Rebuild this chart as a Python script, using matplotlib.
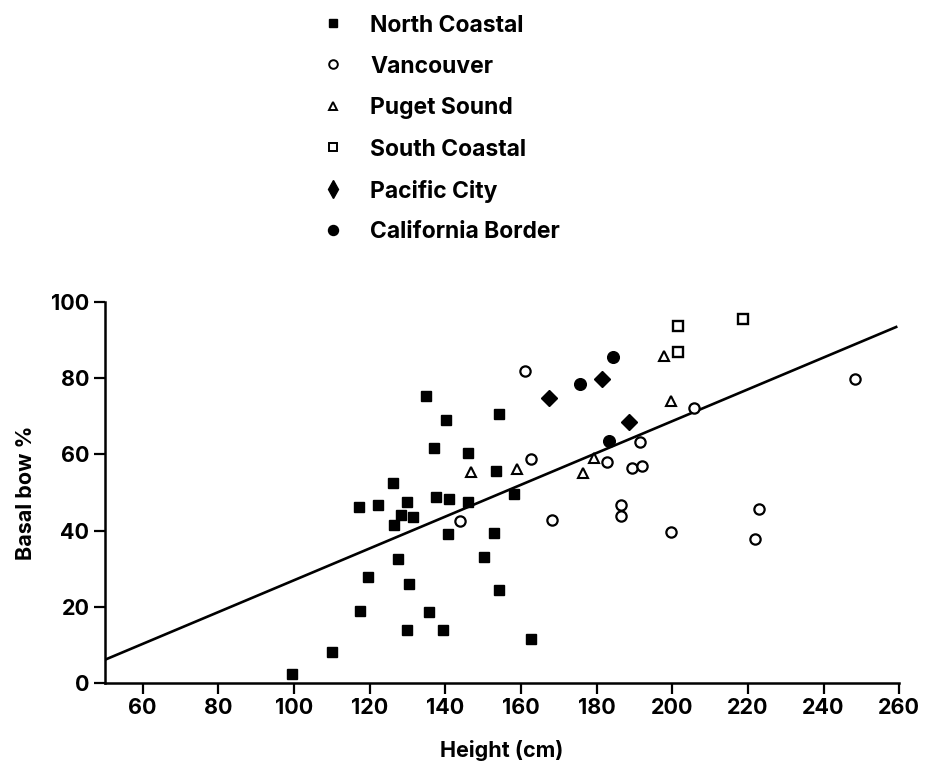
import matplotlib
matplotlib.use("Agg")
import matplotlib.pyplot as plt
from matplotlib.lines import Line2D
import numpy as np

plt.rcParams["font.family"] = ["Inter", "Liberation Sans", "DejaVu Sans"]
plt.rcParams["font.weight"] = "bold"
plt.rcParams["axes.labelweight"] = "bold"

# ---- Data: height (cm) vs basal bow (%) by seed source ----
north_coastal_h = [99.6, 110.0, 117.5, 119.7, 117.3, 122.1, 126.1, 129.9, 128.3, 131.6,
                   126.5, 127.5, 130.5, 129.9, 135.7, 139.5, 135.0, 140.2, 136.9, 145.9,
                   154.2, 153.3, 137.6, 141.1, 146.1, 140.6, 152.8, 150.3, 154.2, 158.3, 162.6]
north_coastal_b = [2.5, 8.1, 19.0, 27.8, 46.2, 46.7, 52.5, 47.4, 44.1, 43.5,
                   41.5, 32.6, 26.0, 13.9, 18.6, 13.9, 75.3, 69.0, 61.8, 60.4,
                   70.7, 55.6, 48.9, 48.4, 47.4, 39.0, 39.3, 33.2, 24.3, 49.7, 11.5]

vancouver_h = [161.1, 162.7, 143.9, 168.2, 182.7, 191.5, 189.3, 191.9, 186.4, 186.4,
               199.6, 205.8, 248.4, 223.0, 221.9]
vancouver_b = [81.8, 58.7, 42.5, 42.7, 58.1, 63.2, 56.5, 56.9, 46.8, 43.8,
               39.6, 72.1, 79.9, 45.8, 37.8]

puget_sound_h = [146.8, 159.1, 176.5, 179.2, 197.8, 199.7]
puget_sound_b = [55.5, 56.2, 55.1, 59.1, 85.8, 74.1]

south_coastal_h = [201.6, 201.6, 218.6]
south_coastal_b = [93.6, 86.8, 95.5]

pacific_city_h = [167.3, 181.5, 188.6]
pacific_city_b = [74.7, 79.9, 68.6]

california_h = [175.6, 184.4, 183.2]
california_b = [78.6, 85.5, 63.5]

# fitted line: bow = a + b * height
fit_intercept = -14.8
fit_slope = 0.4177
fit_range = [50, 259.5]

x_ticks = [60, 80, 100, 120, 140, 160, 180, 200, 220, 240, 260]
y_ticks = [0, 20, 40, 60, 80, 100]

# ---- Marker styles per source ----
# (label, xs, ys, marker, facecolor, size, edge width, legend size)
groups = [
    ("North Coastal", north_coastal_h, north_coastal_b, "s", "black", 7.8, 1.0, 6.0),
    ("Vancouver", vancouver_h, vancouver_b, "o", "white", 7.4, 1.6, 6.2),
    ("Puget Sound", puget_sound_h, puget_sound_b, "^", "white", 6.8, 1.5, 5.8),
    ("South Coastal", south_coastal_h, south_coastal_b, "s", "white", 7.0, 1.7, 5.6),
    ("Pacific City", pacific_city_h, pacific_city_b, "D", "black", 8.2, 1.0, 9.0),
    ("California Border", california_h, california_b, "o", "black", 8.4, 1.0, 7.2),
]

fig = plt.figure(figsize=(9.29, 7.63), dpi=100)
ax = fig.add_axes([0.1127, 0.1048, 0.8553, 0.4993])

xs = np.array(fit_range)
ax.plot(xs, fit_intercept + fit_slope * xs, color="black", lw=1.9, zorder=2,
        solid_capstyle="butt")

for label, hx, by, mk, fc, ms, mew, _ in groups:
    ax.plot(hx, by, linestyle="none", marker=mk, markersize=ms,
            markerfacecolor=fc, markeredgecolor="black", markeredgewidth=mew,
            zorder=3, clip_on=False)

ax.set_xlim(50, 260)
ax.set_ylim(0, 100)
ax.set_xticks(x_ticks)
ax.set_yticks(y_ticks)
for side in ("top", "right"):
    ax.spines[side].set_visible(False)
for side in ("left", "bottom"):
    ax.spines[side].set_linewidth(1.8)
ax.tick_params(direction="out", length=8, width=1.6, labelsize=15.5, pad=2.5)
ax.tick_params(axis="y", pad=3)

ax.set_xlabel("Height (cm)", fontsize=15.5, labelpad=16)
ax.set_ylabel("Basal bow %", fontsize=15.5, labelpad=11)

# ---- Legend block above the axes ----
marker_x = 333 / 929
text_x = 370 / 929
for i, (label, _, _, mk, fc, _, mew, lms) in enumerate(groups):
    y_px = 23 + 41.4 * i
    y = 1 - y_px / 763
    if mk == "D":
        mk = "d"
    fig.add_artist(Line2D([marker_x], [y], transform=fig.transFigure, linestyle="none",
                          marker=mk, markersize=lms, markerfacecolor=fc,
                          markeredgecolor="black", markeredgewidth=min(mew, 1.4)))
    fig.text(text_x, y, label, fontsize=16.5, ha="left", va="center_baseline")

fig.savefig("out.png", dpi=100)
